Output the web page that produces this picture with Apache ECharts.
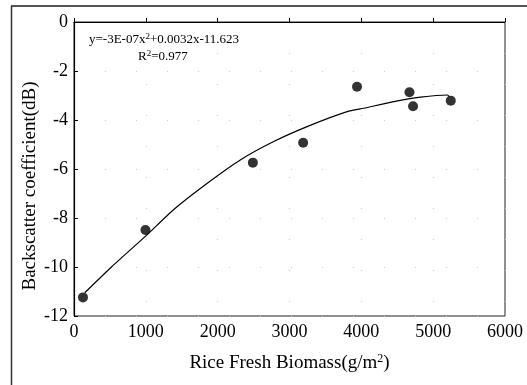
<!DOCTYPE html>
<html>
<head>
<meta charset="utf-8">
<script src="https://cdn.jsdelivr.net/npm/echarts@6/dist/echarts.min.js"></script>
<style>
  html, body { margin: 0; padding: 0; background: #fff; }
  #chart { width: 527px; height: 385px; }
</style>
</head>
<body>
<div id="chart"></div>
<script>
// measured points
const biomass = [125, 995, 2490, 3190, 3940, 4670, 4720, 5245]
const backscatter = [-11.24, -8.49, -5.74, -4.93, -2.64, -2.87, -3.44, -3.21]

// fitted curve
const fitX = [150, 525, 1004, 1385, 1851, 2315, 2780, 3245, 3803, 4035, 4454, 4826, 5198, 5225]
const fitY = [-11.05, -9.99, -8.72, -7.66, -6.59, -5.63, -4.88, -4.27, -3.66, -3.52, -3.25, -3.07, -2.98, -3.05]

const xTicks = [0, 1000, 2000, 3000, 4000, 5000, 6000]
const yTicks = [-12, -10, -8, -6, -4, -2, 0]

const font = 'Liberation Serif'
const chart = echarts.init(document.getElementById('chart'))

chart.setOption({
  animation: false,
  grid: {
    left: 74, right: 22, top: 22, bottom: 69,
    show: true, borderColor: '#222', borderWidth: 1
  },
  xAxis: {
    type: 'value',
    min: xTicks[0], max: xTicks[xTicks.length - 1], interval: 1000,
    name: 'Rice Fresh Biomass(g/m{sup|2})',
    nameLocation: 'middle', nameGap: 37,
    nameTextStyle: {
      fontFamily: font, fontSize: 19, color: '#000',
      rich: { sup: { fontFamily: font, fontSize: 12, color: '#000', verticalAlign: 'bottom', padding: [0, 0, 9, 0] } }
    },
    axisLine: { lineStyle: { color: '#000', width: 1.2 } },
    axisTick: { inside: true, length: 4, lineStyle: { color: '#000' } },
    axisLabel: { fontFamily: font, fontSize: 18, color: '#000', margin: 7, formatter: v => String(v) },
    splitLine: { show: true, lineStyle: { color: '#ccc', type: [1, 30] } }
  },
  yAxis: {
    type: 'value',
    min: yTicks[0], max: yTicks[yTicks.length - 1], interval: 2,
    name: 'Backscatter coefficient(dB)',
    nameLocation: 'middle', nameGap: 34, nameRotate: 90,
    nameMoveOverlap: false,
    nameTextStyle: { fontFamily: font, fontSize: 19, color: '#000', padding: [0, 34, 0, 0] },
    axisLine: { show: true, lineStyle: { color: '#000', width: 1.2 } },
    axisTick: { show: true, inside: true, length: 4, lineStyle: { color: '#000' } },
    axisLabel: { fontFamily: font, fontSize: 18, color: '#000', margin: 6 },
    splitLine: { show: true, lineStyle: { color: '#ccc', type: [1, 30] } }
  },
  graphic: [
    { type: 'line', shape: { x1: 11, y1: 6, x2: 527, y2: 6 }, style: { stroke: '#555', lineWidth: 2 } },
    { type: 'line', shape: { x1: 11.5, y1: 6, x2: 11.5, y2: 385 }, style: { stroke: '#333', lineWidth: 1.5 } },
    {
      type: 'text', left: 89, top: 32,
      style: {
        text: 'y=-3E-07x{sup|2}+0.0032x-11.623',
        fontFamily: font, fontSize: 13, fill: '#000',
        rich: { sup: { fontFamily: font, fontSize: 9, fill: '#000', verticalAlign: 'bottom', padding: [0, 0, 6, 0] } }
      }
    },
    {
      type: 'text', left: 138, top: 49,
      style: {
        text: 'R{sup|2}=0.977',
        fontFamily: font, fontSize: 13, fill: '#000',
        rich: { sup: { fontFamily: font, fontSize: 9, fill: '#000', verticalAlign: 'bottom', padding: [0, 0, 6, 0] } }
      }
    }
  ],
  series: [
    {
      type: 'line',
      data: fitX.map((x, i) => [x, fitY[i]]),
      showSymbol: false,
      smooth: 0.2,
      lineStyle: { color: '#000', width: 1.2 },
      z: 2
    },
    {
      type: 'scatter',
      data: biomass.map((x, i) => [x, backscatter[i]]),
      symbolSize: 10,
      itemStyle: { color: '#000' },
      z: 3
    }
  ]
})
</script>
</body>
</html>
